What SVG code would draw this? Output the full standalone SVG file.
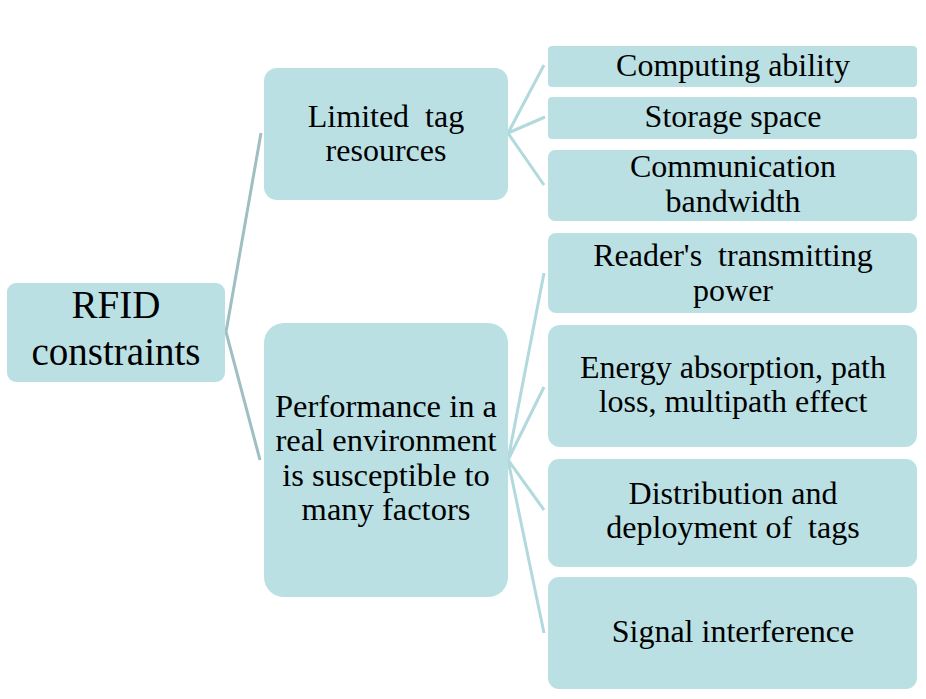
<svg xmlns="http://www.w3.org/2000/svg" width="926" height="699" viewBox="0 0 926 699">
<style>
.box{fill:#bbe0e4}
text{font-family:'Liberation Serif','Times New Roman','DejaVu Serif',serif;fill:#000;text-anchor:middle;font-size:32px}
.l1{stroke:#9fbfc3;stroke-width:3;fill:none}
.l2{stroke:#b2d9dd;stroke-width:3;fill:none}
</style>
<rect width="926" height="699" fill="#fff"/>
<g id="connectors">
<path class="l1" d="M261,133 L226,332 L260,460"/>
<path class="l2" d="M544,65 L508,133 L545,117 M508,133 L544,185"/>
<path class="l2" d="M544,273 L508,460 L544,387 M508,460 L544,510 M508,460 L544,633"/>
</g>
<g id="rfid">
<rect class="box" x="7" y="283" width="218" height="99" rx="9"/>
<text style="font-size:39px" x="116" y="318">RFID</text>
<text style="font-size:39px" x="116" y="365">constraints</text>
</g>
<g id="limited">
<rect class="box" x="264" y="68" width="244" height="132" rx="13"/>
<text x="386" y="127" xml:space="preserve">Limited  tag</text>
<text x="386" y="161">resources</text>
</g>
<g id="performance">
<rect class="box" x="264" y="323" width="244" height="274" rx="20"/>
<text style="font-size:32.5px" x="386" y="417">Performance in a</text>
<text style="font-size:32.5px" x="386" y="451">real environment</text>
<text style="font-size:32.5px" x="386" y="486">is susceptible to</text>
<text style="font-size:32.5px" x="386" y="520">many factors</text>
</g>
<g id="computing">
<rect class="box" x="548" y="46" width="369" height="41" rx="4"/>
<text x="733" y="76">Computing ability</text>
</g>
<g id="storage">
<rect class="box" x="548" y="97" width="369" height="42" rx="4"/>
<text x="733" y="127">Storage space</text>
</g>
<g id="communication">
<rect class="box" x="548" y="150" width="369" height="71" rx="7"/>
<text x="733" y="177">Communication</text>
<text x="733" y="212">bandwidth</text>
</g>
<g id="reader">
<rect class="box" x="548" y="233" width="369" height="80" rx="8"/>
<text x="733" y="266" xml:space="preserve">Reader's  transmitting</text>
<text x="733" y="301">power</text>
</g>
<g id="energy">
<rect class="box" x="548" y="325" width="369" height="122" rx="12"/>
<text x="733" y="378">Energy absorption, path</text>
<text x="733" y="412">loss, multipath effect</text>
</g>
<g id="distribution">
<rect class="box" x="548" y="459" width="369" height="108" rx="11"/>
<text x="733" y="504">Distribution and</text>
<text x="733" y="538" xml:space="preserve">deployment of  tags</text>
</g>
<g id="signal">
<rect class="box" x="548" y="577" width="369" height="112" rx="11"/>
<text x="733" y="642">Signal interference</text>
</g>
</svg>
